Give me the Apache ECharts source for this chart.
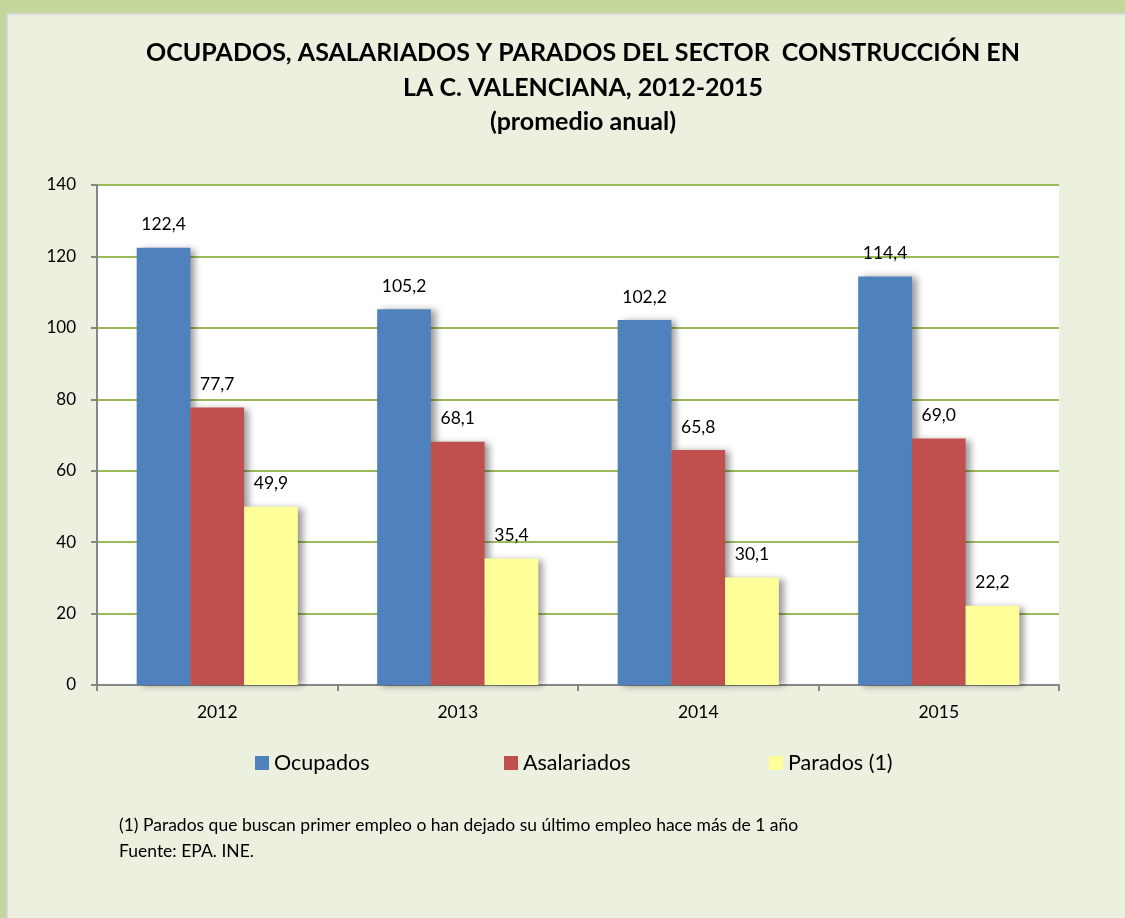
<!DOCTYPE html>
<html>
<head>
<meta charset="utf-8">
<script src="https://cdn.jsdelivr.net/npm/echarts@6/dist/echarts.min.js"></script>
<style>
  html, body { margin: 0; padding: 0; }
  #app { width: 1125px; height: 918px; }
</style>
</head>
<body>
<div id="app"></div>
<script>
var years = ["2012", "2013", "2014", "2015"];
var ocupados = [122.4, 105.2, 102.2, 114.4];
var asalariados = [77.7, 68.1, 65.8, 69.0];
var parados = [49.9, 35.4, 30.1, 22.2];
var seriesNames = ["Ocupados", "Asalariados", "Parados (1)"];
var seriesColors = ["#4F81BD", "#C0504D", "#FFFF99"];

var font = "Lato, 'Liberation Sans', sans-serif";
var chartDom = document.getElementById("app");
var myChart = echarts.init(chartDom);

function fmt(p) {
  return p.value.toFixed(1).replace(".", ",");
}

function makeSeries(name, values, color) {
  return {
    name: name,
    type: "bar",
    data: values,
    barGap: "0%",
    barCategoryGap: "33%",
    itemStyle: {
      color: color,
      shadowColor: "rgba(0,0,0,0.4)",
      shadowBlur: 7,
      shadowOffsetX: 5,
      shadowOffsetY: 1
    },
    label: {
      show: true,
      position: "top",
      distance: 14,
      formatter: fmt,
      fontFamily: font,
      fontSize: 17.5,
      color: "#000"
    }
  };
}

function makeLegend(i, left) {
  return {
    data: [seriesNames[i]],
    left: left,
    top: 747,
    icon: "rect",
    itemWidth: 14,
    itemHeight: 14,
    itemGap: 6,
    selectedMode: false,
    textStyle: { fontFamily: font, fontSize: 21.5, color: "#000" }
  };
}

var option = {
  backgroundColor: "#EBF0DF",
  textStyle: { fontFamily: font },
  title: {
    text: "OCUPADOS, ASALARIADOS Y PARADOS DEL SECTOR  CONSTRUCCIÓN EN\nLA C. VALENCIANA, 2012-2015\n(promedio anual)",
    left: 578,
    textAlign: "center",
    top: 31,
    textStyle: {
      fontFamily: font,
      fontWeight: "bold",
      fontSize: 25,
      lineHeight: 34.5,
      color: "#000"
    }
  },
  legend: [makeLegend(0, 250), makeLegend(1, 499), makeLegend(2, 764)],
  grid: { left: 97, top: 185, right: 66, bottom: 233 },
  xAxis: {
    type: "category",
    data: years,
    axisLine: { lineStyle: { color: "#868686", width: 2 } },
    axisTick: { show: true, length: 6, lineStyle: { color: "#868686", width: 2 } },
    axisLabel: { fontFamily: font, fontSize: 17.5, color: "#000", margin: 18 }
  },
  yAxis: {
    type: "value",
    min: 0,
    max: 140,
    interval: 20,
    axisLine: { show: true, lineStyle: { color: "#868686", width: 2 } },
    axisTick: { show: true, length: 6, lineStyle: { color: "#868686", width: 2 } },
    axisLabel: { fontFamily: font, fontSize: 17, color: "#000", margin: 21 },
    splitLine: { lineStyle: { color: "#9BBB59", width: 2 } },
    splitArea: { show: true, areaStyle: { color: ["#FFFFFF", "#FFFFFF"] } }
  },
  graphic: [
    { type: "rect", shape: { x: 0, y: 0, width: 1125, height: 13 }, style: { fill: "#C3D69B" }, z: 10 },
    { type: "rect", shape: { x: 0, y: 0, width: 6, height: 918 }, style: { fill: "#C3D69B" }, z: 10 },
    { type: "line", shape: { x1: 6, y1: 14, x2: 1125, y2: 14 }, style: { stroke: "#D8D8D8", lineWidth: 2 }, z: 10 },
    { type: "line", shape: { x1: 7, y1: 14, x2: 7, y2: 918 }, style: { stroke: "#D8D8D8", lineWidth: 2 }, z: 10 },
    {
      type: "text",
      left: 119,
      top: 812,
      style: {
        text: "(1) Parados que buscan primer empleo o han dejado su último empleo hace más de 1 año\nFuente: EPA. INE.",
        fontFamily: font,
        fontSize: 17.5,
        lineHeight: 26,
        fill: "#000"
      }
    }
  ],
  series: [
    makeSeries(seriesNames[0], ocupados, seriesColors[0]),
    makeSeries(seriesNames[1], asalariados, seriesColors[1]),
    makeSeries(seriesNames[2], parados, seriesColors[2])
  ]
};

option && myChart.setOption(option);
</script>
</body>
</html>
